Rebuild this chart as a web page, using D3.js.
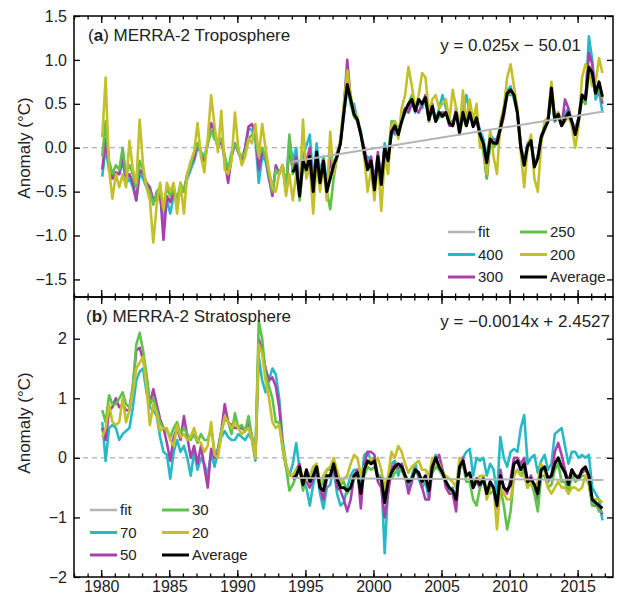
<!DOCTYPE html>
<html><head><meta charset="utf-8">
<script src="https://cdn.jsdelivr.net/npm/d3@7/dist/d3.min.js"></script>
<style>
html,body{margin:0;padding:0;background:#fff;}
svg{display:block;font-family:"Liberation Sans",Arial,Helvetica,sans-serif;}
</style></head><body>
<svg id="c" width="620" height="597"></svg>
<script>
// ---------------- DATA (quarterly values, start 1980) ----------------
const startYear = 1980, perYear = 4, avgStartYear = 1994;
const xTicksMajor = [1980, 1985, 1990, 1995, 2000, 2005, 2010, 2015];
const tropoTicks = [-1.5, -1.0, -0.5, 0.0, 0.5, 1.0, 1.5];
const stratoTicks = [-2, -1, 0, 1, 2];

const tropo400 = [
-0.33,0.0,-0.25,-0.35, -0.3,-0.3,-0.15,-0.4, -0.35,-0.45,-0.6,-0.3, -0.35,-0.45,-0.5,-0.6,
-0.6,-0.55,-0.85,-0.6, -0.75,-0.55,-0.6,-0.5, -0.5,-0.35,-0.25,-0.15, 0.0,-0.05,-0.15,0.05,
0.2,0.15,0.0,0.1, -0.1,-0.35,-0.1,0.05, -0.05,-0.15,0.0,0.22, 0.2,0.1,-0.4,-0.1,
-0.15,-0.35,-0.5,-0.25, -0.3,-0.2,-0.5,0.1,
-0.15,0.0,-0.45,-0.1, 0.02,0.15,-0.4,0.05, -0.3,-0.1,-0.4,-0.1, -0.25,-0.05,0.05,0.35,
0.7,0.5,0.5,0.3, 0.2,-0.1,-0.1,-0.15, -0.35,-0.1,-0.4,0.05, -0.1,0.2,0.15,0.2,
0.3,0.4,0.45,0.55, 0.4,0.55,0.45,0.55, 0.35,0.45,0.3,0.45, 0.6,0.45,0.3,0.3,
0.4,0.25,0.4,0.6, 0.4,0.3,0.35,0.2, 0.1,-0.1,0.15,0.1, 0.1,0.25,0.45,0.65,
0.7,0.55,0.4,0.0, -0.15,0.05,0.1,-0.2, -0.1,0.15,0.2,0.3, 0.6,0.3,0.35,0.25,
0.4,0.45,0.3,0.2, 0.35,0.6,0.5,1.27, 1.0,0.55,0.65,0.4];
const tropo300 = [
-0.25,0.1,-0.2,-0.35, -0.28,-0.3,-0.1,-0.35, -0.3,-0.4,-0.6,-0.25, -0.3,-0.4,-0.45,-0.6,
-0.55,-0.5,-1.05,-0.55, -0.62,-0.5,-0.6,-0.45, -0.5,-0.3,-0.2,-0.12, 0.05,-0.05,-0.15,0.05,
0.28,0.2,0.0,0.1, -0.15,-0.4,-0.1,0.05, -0.05,-0.15,0.0,0.24, 0.27,0.15,-0.25,-0.05,
-0.1,-0.35,-0.55,-0.2, -0.3,-0.2,-0.45,0.0,
-0.25,-0.1,-0.5,-0.15, -0.15,0.0,-0.45,-0.1, -0.35,-0.15,-0.45,-0.15, -0.3,-0.1,0.05,0.45,
1.0,0.55,0.4,0.3, 0.15,0.0,-0.2,-0.1, -0.4,-0.05,-0.35,0.0, -0.1,0.15,0.2,0.15,
0.35,0.45,0.4,0.5, 0.45,0.4,0.5,0.6, 0.3,0.5,0.3,0.4, 0.4,0.4,0.25,0.25,
0.45,0.2,0.4,0.3, 0.4,0.25,0.3,0.15, 0.0,-0.35,0.1,0.05, 0.1,0.2,0.35,0.6,
0.65,0.6,0.4,0.05, -0.2,0.0,0.05,-0.2, -0.1,0.1,0.25,0.3, 0.65,0.3,0.4,0.25,
0.55,0.45,0.3,0.2, 0.35,0.6,0.55,1.08, 0.95,0.6,0.7,0.5];
const tropo250 = [
-0.1,0.3,-0.15,-0.3, -0.2,-0.25,0.0,-0.3, -0.2,-0.3,-0.45,-0.15, -0.25,-0.45,-0.5,-0.65,
-0.5,-0.45,-0.7,-0.45, -0.55,-0.45,-0.6,-0.4, -0.5,-0.3,-0.2,-0.05, 0.05,-0.05,-0.1,0.05,
0.2,0.1,0.05,0.1, -0.1,-0.25,-0.05,0.05, -0.05,-0.1,-0.05,0.1, 0.15,0.1,-0.1,0.0,
-0.1,-0.3,-0.5,-0.25, -0.3,-0.2,-0.5,0.15,
-0.3,-0.2,-0.6,-0.2, -0.3,-0.1,-0.5,-0.05, -0.4,-0.15,-0.5,-0.7, -0.35,-0.1,0.05,0.4,
0.8,0.5,0.35,0.3, 0.15,-0.05,-0.25,-0.15, -0.45,-0.1,-0.4,0.0, -0.1,0.3,0.3,0.2,
0.3,0.4,0.5,0.6, 0.45,0.5,0.5,0.55, 0.3,0.45,0.3,0.35, 0.35,0.4,0.3,0.25,
0.4,0.15,0.35,0.25, 0.4,0.25,0.35,0.15, -0.05,-0.35,0.05,0.0, 0.05,0.2,0.4,0.6,
0.6,0.6,0.4,0.0, -0.15,0.0,0.1,-0.2, -0.1,0.1,0.2,0.3, 0.6,0.3,0.35,0.25,
0.3,0.4,0.3,0.15, 0.3,0.55,0.5,0.85, 0.8,0.6,0.7,0.55];
const tropo200 = [
0.12,0.8,-0.25,-0.58, -0.3,-0.45,-0.3,-0.45, 0.08,-0.25,-0.4,0.32, -0.2,-0.45,-0.6,-1.08,
-0.65,-0.4,-0.7,-0.4, -0.5,-0.4,-0.75,-0.4, -0.75,-0.3,-0.15,-0.05, 0.28,-0.1,-0.28,0.1,
0.6,0.25,-0.05,0.42, -0.25,-0.3,-0.15,0.4, 0.0,-0.2,-0.1,0.1, 0.05,0.27,-0.1,0.27,
0.0,-0.25,-0.45,-0.5, -0.3,-0.2,-0.55,-0.3,
-0.6,-0.3,-0.5,0.32, -0.35,-0.2,-0.75,-0.15, -0.5,-0.2,-0.6,0.18, -0.3,-0.1,0.1,0.5,
0.88,0.6,0.4,0.35, 0.15,-0.1,-0.5,-0.25, -0.6,-0.15,-0.72,-0.1, -0.3,0.25,0.3,0.1,
0.45,0.6,0.92,0.7, 0.45,0.6,0.85,0.8, 0.4,0.55,0.6,0.45, 0.5,0.55,0.3,0.66,
0.45,0.2,0.65,0.3, 0.55,0.3,0.5,0.0, 0.05,-0.3,0.2,-0.1, -0.3,0.3,0.45,0.8,
0.95,0.7,0.45,-0.05, -0.45,0.0,0.15,-0.35, -0.5,0.05,0.3,0.35, 0.75,0.35,0.4,0.3,
0.3,0.35,0.25,0.0, 0.25,0.8,0.95,0.85, 0.7,0.75,1.02,0.85];
const tropoAvg = [
-0.28,-0.2,-0.55,-0.15, -0.25,-0.1,-0.5,-0.05, -0.4,-0.15,-0.5,-0.35, -0.2,-0.1,0.05,0.4,
0.72,0.55,0.38,0.32, 0.15,-0.05,-0.25,-0.15, -0.48,-0.1,-0.42,0.0, -0.15,0.18,0.25,0.15,
0.3,0.42,0.5,0.55, 0.42,0.55,0.5,0.57, 0.32,0.47,0.3,0.4, 0.36,0.4,0.28,0.25,
0.4,0.17,0.4,0.25, 0.4,0.24,0.34,0.15, 0.05,-0.17,0.1,0.05, 0.05,0.22,0.4,0.62,
0.66,0.6,0.4,0.0, -0.2,0.02,0.08,-0.22, -0.12,0.12,0.22,0.3, 0.68,0.32,0.38,0.25,
0.33,0.4,0.3,0.15, 0.32,0.6,0.55,0.92, 0.85,0.62,0.75,0.58];

const strato70 = [
0.6,-0.05,0.5,0.55, 0.5,0.3,0.4,0.45, 0.5,0.85,1.3,1.45, 1.5,1.1,0.85,0.8,
0.7,0.35,0.1,0.05, -0.35,0.1,0.3,0.1, 0.2,0.0,-0.3,0.1, -0.2,0.0,-0.1,-0.3,
0.1,-0.15,0.1,0.35, 0.45,0.35,0.3,0.3, 0.4,0.35,0.3,0.4, 0.3,-0.05,1.7,1.3,
1.1,1.3,1.5,1.4, 1.0,0.3,-0.1,-0.3,
-0.1,0.25,-0.2,-0.4, -0.5,-0.8,-0.45,-0.2, -0.6,-0.85,-0.5,-0.45, -0.15,-0.6,-0.8,-0.75,
-0.5,-0.3,-0.2,-0.2, -0.5,0.05,0.1,-0.05, 0.0,-0.3,-0.3,-1.6, -0.5,-0.1,-0.05,-0.3,
-0.1,-0.3,-0.5,-0.3, -0.1,-0.35,-0.5,-0.4, -0.7,-0.1,0.05,-0.2, -0.2,-0.4,-0.55,-0.5,
-0.8,-0.1,0.0,0.1, 0.15,-0.3,0.0,-0.05, 0.0,-0.3,-0.1,-0.2, -0.6,0.35,0.0,-0.15,
0.1,0.15,0.1,0.5, 0.72,-0.1,0.0,0.05, -0.25,-0.05,0.05,-0.2, -0.1,0.4,0.45,0.5,
0.2,-0.1,0.1,0.1, 0.0,0.05,0.0,0.05, -0.5,-0.6,-0.7,-1.05];
const strato50 = [
0.5,0.3,0.8,0.85, 1.0,0.85,0.9,0.8, 0.8,1.2,1.8,1.85, 1.65,1.35,0.9,1.15,
0.9,0.65,0.5,0.25, -0.05,0.35,0.5,0.3, 0.7,0.35,0.0,0.2, -0.1,0.2,-0.15,-0.5,
0.15,0.0,0.15,0.45, 0.9,0.6,0.55,0.5, 0.5,0.5,0.45,0.6, 0.35,0.0,2.0,1.8,
1.5,1.3,1.35,1.2, 0.85,0.2,-0.15,-0.3,
-0.3,-0.2,-0.1,-0.45, -0.4,-0.5,-0.35,-0.2, -0.5,-0.7,-0.35,-0.3, -0.2,-0.5,-0.55,-0.7,
-0.9,-0.7,-0.3,-0.2, -0.85,-0.1,0.1,0.1, 0.05,-0.4,-0.5,-1.0, -0.6,-0.2,-0.1,-0.2,
-0.1,-0.3,-0.6,-0.4, -0.2,-0.3,-0.5,-0.7, -0.7,-0.2,-0.05,0.05, -0.2,-0.5,-0.6,-0.6,
-0.9,-0.1,0.0,-0.3, -0.3,-0.5,-0.4,-0.5, -0.35,-0.6,-0.45,-0.5, -0.85,-0.2,-0.5,-0.6,
-0.35,0.0,0.0,-0.1, 0.0,-0.4,-0.3,-0.5, -0.7,-0.2,-0.2,-0.4, -0.3,0.1,0.25,0.05,
-0.2,-0.4,-0.2,-0.3, -0.3,-0.25,-0.2,-0.3, -0.8,-0.8,-0.85,-0.95];
const strato30 = [
0.8,0.6,1.05,0.9, 0.9,1.0,1.1,0.9, 0.85,1.2,1.9,2.1, 1.8,1.4,0.9,1.0,
0.8,0.6,0.5,0.45, 0.35,0.5,0.6,0.4, 0.5,0.4,0.3,0.4, 0.25,0.4,0.3,0.3,
0.5,0.1,0.1,0.45, 0.65,0.6,0.4,0.75, 0.5,0.55,0.45,0.7, 0.35,0.0,2.3,2.0,
1.4,1.2,1.0,0.6, 0.6,0.15,-0.15,-0.55,
-0.45,-0.3,-0.2,-0.55, -0.3,-0.3,-0.2,-0.1, -0.5,-0.4,-0.2,-0.2, -0.05,-0.3,-0.45,-0.4,
-0.6,-0.5,-0.35,-0.3, -0.5,-0.3,-0.15,-0.2, -0.15,-0.35,-0.3,-0.7, -0.35,-0.35,-0.25,-0.2,
-0.2,-0.35,-0.4,-0.35, -0.2,-0.25,-0.4,-0.35, -0.5,-0.25,-0.15,-0.2, -0.3,-0.4,-0.5,-0.6,
-0.7,-0.2,-0.1,-0.4, -0.4,-0.7,-0.8,-0.5, -0.3,-0.55,-0.6,-0.55, -0.8,-0.5,-0.8,-1.2,
-0.9,-0.3,-0.2,-0.3, -0.2,-0.5,-0.4,-0.6, -0.9,-0.3,-0.3,-0.5, -0.45,-0.2,-0.1,-0.4,
-0.4,-0.6,-0.3,-0.4, -0.35,-0.3,-0.3,-0.45, -0.8,-0.75,-0.9,-0.9];
const strato20 = [
0.35,0.5,0.9,0.6, 0.55,0.6,1.0,0.6, 0.8,1.1,1.5,1.6, 1.7,1.2,0.55,0.9,
0.75,0.45,0.5,0.5, 0.3,0.2,0.55,0.35, 0.4,0.3,0.35,0.5, 0.3,0.25,0.1,0.2,
0.6,0.05,0.0,0.4, 0.7,0.6,0.5,0.6, 0.5,0.4,0.45,0.5, 0.3,0.0,1.9,1.75,
1.3,1.0,0.6,0.5, 0.55,0.2,-0.1,-0.3,
-0.3,-0.2,-0.15,-0.35, -0.25,-0.3,-0.15,-0.1, -0.4,-0.3,-0.2,-0.15, 0.0,-0.2,-0.4,-0.35,
-0.3,-0.1,0.05,0.0, -0.3,-0.15,-0.1,0.0, -0.1,0.0,-0.2,-0.5, -0.3,0.1,0.0,0.2,
0.1,-0.1,-0.25,-0.15, -0.1,-0.05,-0.2,-0.2, -0.3,0.0,-0.1,-0.1, -0.25,-0.3,-0.35,-0.4,
-0.5,0.0,-0.1,-0.3, -0.3,-0.4,-0.4,-0.3, -0.3,-0.7,-0.5,-0.5, -1.2,-0.5,-0.6,-0.7,
-0.7,-0.3,-0.2,-0.3, -0.3,-0.5,-0.4,-0.5, -0.4,-0.1,-0.2,-0.5, -0.6,-0.5,-0.4,-0.5,
-0.5,-0.6,-0.5,-0.5, -0.55,-0.5,-0.3,-0.4, -0.7,-0.7,-0.7,-0.75];
const stratoAvg = [
-0.35,-0.3,-0.15,-0.45, -0.2,-0.4,-0.3,-0.15, -0.5,-0.55,-0.3,-0.3, -0.1,-0.35,-0.5,-0.5,
-0.55,-0.5,-0.3,-0.25, -0.6,-0.2,-0.05,-0.1, -0.05,-0.35,-0.35,-0.75, -0.4,-0.25,-0.15,-0.1,
-0.15,-0.3,-0.4,-0.35, -0.2,-0.25,-0.4,-0.3, -0.55,-0.15,0.0,-0.15, -0.25,-0.4,-0.5,-0.55,
-0.7,-0.15,-0.05,-0.3, -0.25,-0.5,-0.35,-0.45, -0.35,-0.6,-0.4,-0.5, -0.8,-0.3,-0.5,-0.55,
-0.45,-0.1,-0.05,-0.2, -0.1,-0.4,-0.35,-0.45, -0.6,-0.2,-0.15,-0.35, -0.3,-0.1,0.0,-0.15,
-0.25,-0.45,-0.2,-0.3, -0.35,-0.2,-0.15,-0.3, -0.7,-0.75,-0.8,-0.85];

// fit coefficients (slope, intercept) and the years they span
const tropoFit = [0.025, -50.01];
const stratoFit = [-0.0014, 2.4527];
const fitYears = [1994, 2016.9];

const colors = {fit:"#b4b4b4", c1:"#27bac6", c2:"#ab40ab", c3:"#5fc24d", c4:"#c4c02c", avg:"#000"};

// ---------------- DRAW ----------------
const svg = d3.select("#c");
const L = 74, R = 613;
const x = d3.scaleLinear().domain([1978, 2017.6]).range([L, R]);
const tOf = (i, y0) => y0 + (i + 0.3) / perYear;

function panel(opt){
  const y = d3.scaleLinear().domain(opt.domain).range([opt.bottom, opt.top]);
  const g = svg.append("g");
  g.append("line").attr("x1", L).attr("x2", R).attr("y1", y(0)).attr("y2", y(0))
    .attr("stroke", "#9a9a9a").attr("stroke-width", 1).attr("stroke-dasharray", "5,4");
  const line = d3.line().x(d => x(d[0])).y(d => y(d[1]));
  const clip = "clip" + opt.id;
  svg.append("clipPath").attr("id", clip).append("rect")
    .attr("x", L).attr("y", opt.top).attr("width", R - L).attr("height", opt.bottom - opt.top);
  const dg = g.append("g").attr("clip-path", `url(#${clip})`);
  opt.series.forEach(s => {
    dg.append("path").datum(s.values.map((v, i) => [tOf(i, startYear), v]))
      .attr("d", line).attr("fill", "none").attr("stroke", s.color)
      .attr("stroke-width", 2.6).attr("stroke-linejoin", "round");
  });
  dg.append("path").datum(opt.avg.map((v, i) => [tOf(i, avgStartYear), v]))
    .attr("d", line).attr("fill", "none").attr("stroke", colors.avg)
    .attr("stroke-width", 3).attr("stroke-linejoin", "round");
  dg.append("path").datum(fitYears.map(t => [t, opt.fit[0] * t + opt.fit[1]]))
    .attr("d", line).attr("fill", "none").attr("stroke", colors.fit).attr("stroke-width", 2);

  const minor = d3.range(1978, 2018);
  const axG = g.append("g").attr("fill", "none");
  const mk = (axis, tr) => { const a = axG.append("g").attr("transform", tr).call(axis);
    a.select(".domain").remove(); a.selectAll("text").attr("fill", "#222"); a.selectAll("line").attr("stroke", "#000").attr("stroke-width", 1.3); return a; };
  mk(d3.axisBottom(x).tickValues(minor).tickSize(-3.5).tickFormat(""), `translate(0,${opt.bottom})`);
  mk(d3.axisTop(x).tickValues(minor).tickSize(-3.5).tickFormat(""), `translate(0,${opt.top})`);
  mk(d3.axisTop(x).tickValues(xTicksMajor).tickSize(-7).tickFormat(""), `translate(0,${opt.top})`);
  const xb = mk(d3.axisBottom(x).tickValues(xTicksMajor).tickSize(-7).tickPadding(4)
      .tickFormat(opt.xLabels ? d3.format("d") : ""), `translate(0,${opt.bottom})`);
  xb.selectAll("text").attr("font-size", 16).attr("font-family", "Liberation Sans, Arial, sans-serif");
  const yl = mk(d3.axisLeft(y).tickValues(opt.ticks).tickSize(-6).tickPadding(7).tickFormat(d3.format(opt.fmt)), `translate(${L},0)`);
  yl.selectAll("text").attr("font-size", 16).attr("font-family", "Liberation Sans, Arial, sans-serif")
    .text(d => d3.format(opt.fmt)(d).replace("-", "\u2212"));
  mk(d3.axisRight(y).tickValues(opt.ticks).tickSize(-6).tickFormat(""), `translate(${R},0)`);

  g.append("rect").attr("x", L).attr("y", opt.top).attr("width", R - L).attr("height", opt.bottom - opt.top)
    .attr("fill", "none").attr("stroke", "#000").attr("stroke-width", 1.5);

  const t = g.append("text").attr("x", opt.titleX).attr("y", opt.titleY).attr("font-size", 17).attr("fill", "#222");
  t.append("tspan").text("(");
  t.append("tspan").attr("font-weight", "bold").text(opt.letter);
  t.append("tspan").text(") " + opt.title);
  g.append("text").attr("x", opt.eqX).attr("y", opt.eqY).attr("text-anchor", "end")
    .attr("font-size", 17).attr("fill", "#222").text(opt.eq);
  g.append("text").attr("transform", `translate(30,${opt.ylabY}) rotate(-90)`).attr("text-anchor", "middle")
    .attr("font-size", 17).attr("fill", "#222").text("Anomaly (\u00B0C)");

  const items = [
    {label: "fit", color: colors.fit, w: 2.5, col: 0, row: 0},
    {label: opt.series[0].name, color: opt.series[0].color, w: 3, col: 0, row: 1},
    {label: opt.series[1].name, color: opt.series[1].color, w: 3, col: 0, row: 2},
    {label: opt.series[2].name, color: opt.series[2].color, w: 3, col: 1, row: 0},
    {label: opt.series[3].name, color: opt.series[3].color, w: 3, col: 1, row: 1},
    {label: "Average", color: colors.avg, w: 3, col: 1, row: 2}];
  const lg = g.append("g");
  items.forEach(it => {
    const lx = opt.legX[it.col], ly = opt.legY + it.row * 22.5;
    lg.append("line").attr("x1", lx).attr("x2", lx + 27).attr("y1", ly).attr("y2", ly)
      .attr("stroke", it.color).attr("stroke-width", it.w);
    lg.append("text").attr("x", lx + 30).attr("y", ly).attr("dy", "0.36em")
      .attr("font-size", 15).attr("fill", "#222").text(it.label);
  });
}

panel({id: "a", domain: [-1.7, 1.5], top: 16, bottom: 297, ticks: tropoTicks, fmt: ".1f",
  series: [{name: "400", values: tropo400, color: colors.c1}, {name: "300", values: tropo300, color: colors.c2},
           {name: "250", values: tropo250, color: colors.c3}, {name: "200", values: tropo200, color: colors.c4}],
  avg: tropoAvg, fit: tropoFit, xLabels: false,
  letter: "a", title: "MERRA-2 Troposphere", titleX: 88, titleY: 41,
  eq: "y = 0.025x \u2212 50.01", eqX: 581, eqY: 51, ylabY: 148,
  legX: [448, 520], legY: 232});

panel({id: "b", domain: [-2, 2.7], top: 297, bottom: 577, ticks: stratoTicks, fmt: "d",
  series: [{name: "70", values: strato70, color: colors.c1}, {name: "50", values: strato50, color: colors.c2},
           {name: "30", values: strato30, color: colors.c3}, {name: "20", values: strato20, color: colors.c4}],
  avg: stratoAvg, fit: stratoFit, xLabels: true,
  letter: "b", title: "MERRA-2 Stratosphere", titleX: 86, titleY: 322,
  eq: "y = \u22120.0014x + 2.4527", eqX: 610, eqY: 327, ylabY: 423,
  legX: [90, 162], legY: 510});
</script>
</body></html>
